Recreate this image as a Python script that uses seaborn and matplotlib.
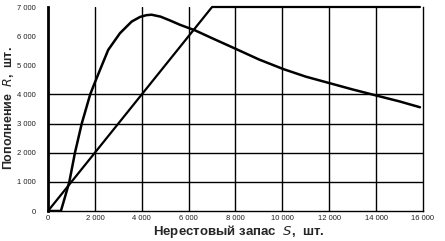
import matplotlib
matplotlib.use("Agg")
import matplotlib.pyplot as plt
import pandas
import seaborn

# spawning stock S vs recruitment R
stock = [0, 300, 550, 725, 910, 1150, 1440, 1800, 1960, 2220, 2570, 3070,
         3570, 3930, 4200, 4420, 4800, 5200, 5630, 6270, 7000, 8020, 9000,
         10040, 11000, 12000, 13000, 14020, 15000, 15870]
recruits = [0, 0, 0, 480, 1000, 2000, 3000, 4000, 4330, 4845, 5530, 6100,
            6500, 6660, 6720, 6735, 6670, 6540, 6390, 6200, 5930, 5560, 5200,
            4870, 4610, 4390, 4170, 3960, 3760, 3560]

# replacement line R = S, capped at the top of the chart
line_stock = [0, 7000, 15870]
line_recruits = [0, 7000, 7000]

x_ticks = [0, 2000, 4000, 6000, 8000, 10000, 12000, 14000, 16000]
y_ticks = [0, 1000, 2000, 3000, 4000, 5000, 6000, 7000]
x_grid = [2000, 4000, 6000, 8000, 10000, 12000, 14000]
y_grid = [1000, 2000, 3000, 4000]


def fmt(v):
    return f"{v:,}".replace(",", " ")


seaborn.set_style("white")
plt.rcParams["font.family"] = ["Liberation Sans", "DejaVu Sans"]

fig = plt.figure(figsize=(4.45, 2.41), dpi=100)
ax = fig.add_axes([48 / 445, 1 - 211 / 241, 375 / 445, 204 / 241])

for gx in x_grid:
    ax.axvline(gx, color="black", lw=1.0, zorder=1)
for gy in y_grid:
    ax.axhline(gy, color="black", lw=1.0, zorder=1)

curve = pandas.DataFrame({"S": stock, "R": recruits})
repl = pandas.DataFrame({"S": line_stock, "R": line_recruits})
seaborn.lineplot(data=curve, x="S", y="R", color="black", lw=1.8, ax=ax,
                 sort=False, zorder=3)
seaborn.lineplot(data=repl, x="S", y="R", color="black", lw=1.6, ax=ax,
                 sort=False, zorder=3, clip_on=False)

ax.set_xlim(0, 16000)
ax.set_ylim(0, 7000)
ax.set_xticks(x_ticks)
ax.set_yticks(y_ticks)
ax.set_xticklabels([fmt(v) for v in x_ticks], fontsize=5.5, color="#222222")
ax.set_yticklabels([fmt(v) for v in y_ticks], fontsize=5.5, color="#222222")
ax.tick_params(length=0, pad=3)
ax.tick_params(axis="y", pad=9)

ax.spines["top"].set_visible(False)
ax.spines["left"].set_linewidth(2.0)
ax.spines["bottom"].set_linewidth(1.0)
ax.spines["right"].set_linewidth(1.0)
for s in ax.spines.values():
    s.set_color("black")

ax.set_xlabel(r"Нерестовый запас  $\mathit{S}$,  шт.", fontsize=9.5,
              fontweight="bold")
ax.set_ylabel(r"Пополнение  $\mathit{R}$,  шт.", fontsize=9,
              fontweight="bold")
ax.xaxis.set_label_coords(0.509, -0.10)
ax.yaxis.set_label_coords(-0.106, 0.505)
ax.xaxis.label.set_va("center")
ax.yaxis.label.set_va("center")

fig.savefig("out.png", dpi=100)
